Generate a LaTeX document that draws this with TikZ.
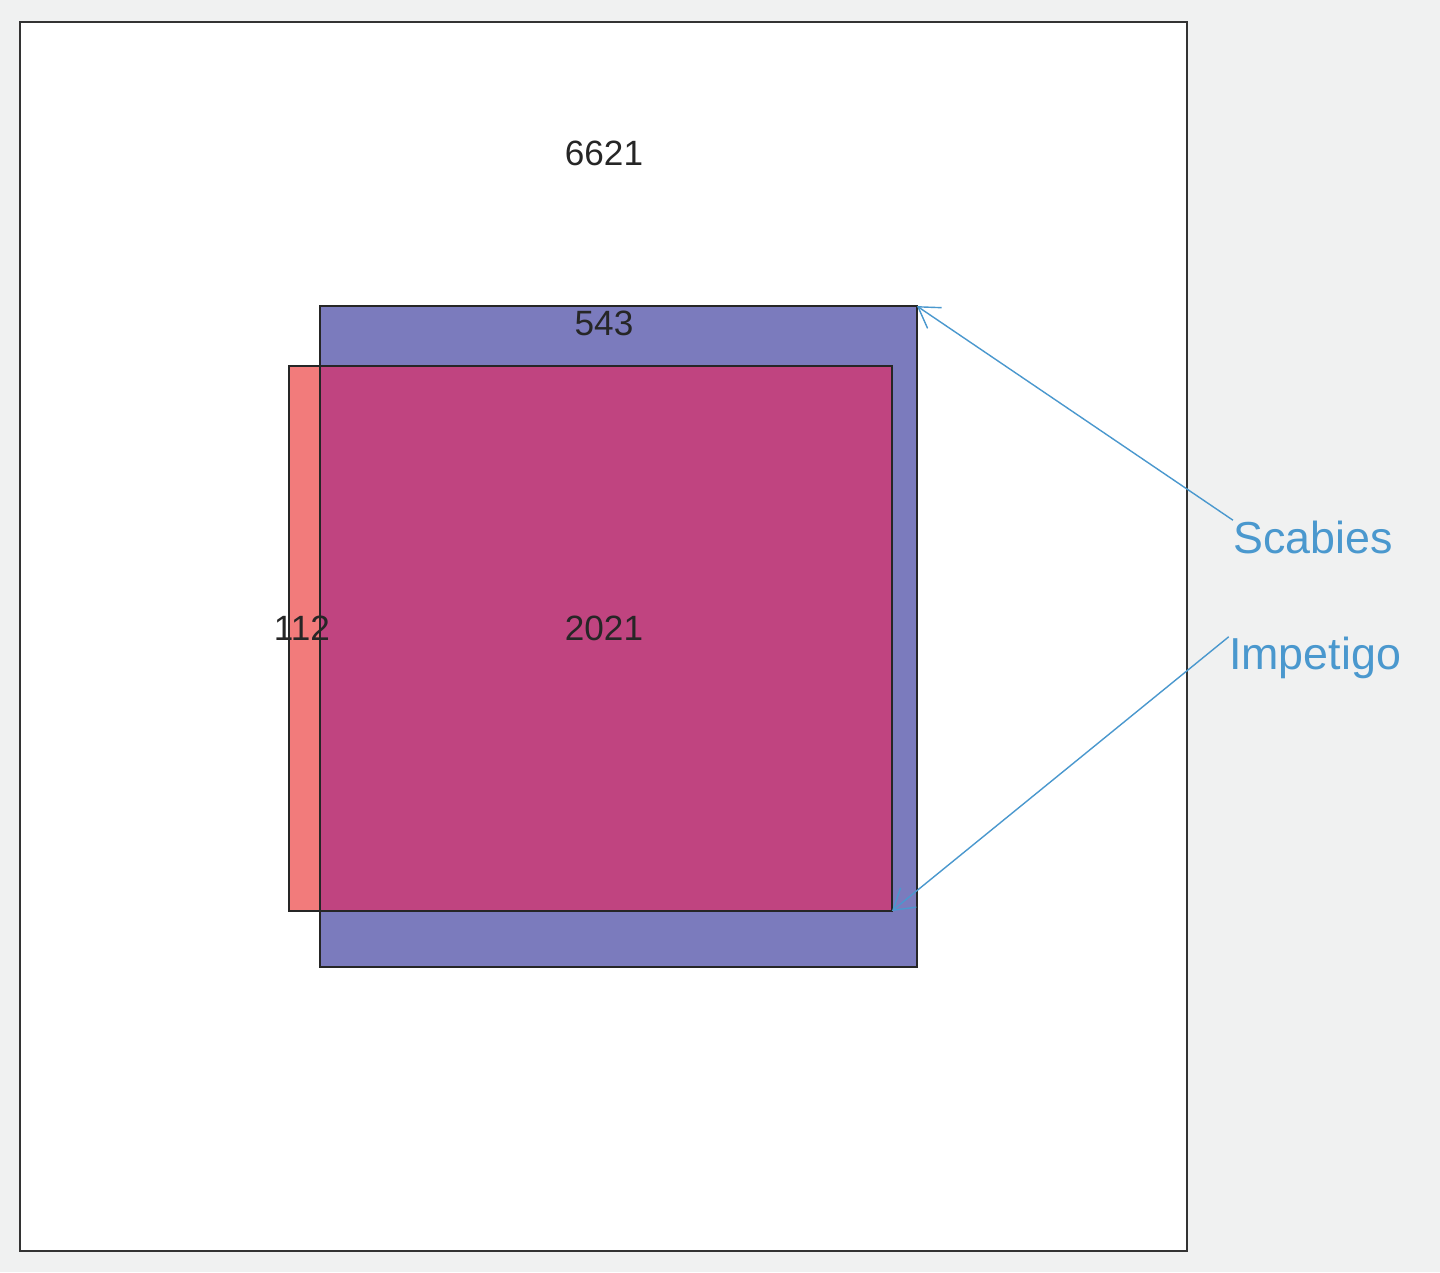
\documentclass[tikz,border=0pt]{standalone}
\usepackage{fontspec}
\setmainfont{Liberation Sans}
\usepackage{xcolor}
\usetikzlibrary{arrows.meta, positioning, backgrounds}

\definecolor{panelgray}{HTML}{F0F1F1}
\definecolor{setblue}{HTML}{7B7BBD}
\definecolor{setred}{HTML}{F27B7B}
\definecolor{setboth}{HTML}{C04480}
\definecolor{labelblue}{HTML}{4A98CE}

\begin{document}
\begin{tikzpicture}[
    x=0.02cm, y=-0.02cm,
    setbox/.style={rectangle, draw=black!85, line width=1.1pt, inner sep=0pt, outer sep=0pt},
    count/.style={font=\fontsize{20}{24}\selectfont, text=black!85},
    setlabel/.style={font=\fontsize{25.5}{30}\selectfont, text=labelblue, inner sep=0pt},
    pointer/.style={-{Straight Barb[length=4mm, width=5mm]}, draw=labelblue, line width=0.8pt}
]
    % Background and frame
    \fill[panelgray] (0,0) rectangle (1440,1272);
    \useasboundingbox (0,0) rectangle (1440,1272);
    \node[setbox, fill=white, draw=black!80, minimum width=23.34cm, minimum height=24.58cm] (frame) at (603.5,636.5) {};

    % Sets
    \node[setbox, fill=setblue, minimum width=11.94cm, minimum height=13.22cm] (scabies) at (618.5,636.5) {};
    \node[setbox, fill=setred, draw=none, minimum width=12.06cm, minimum height=10.9cm] (impetigo) at (590.5,638.5) {};
    \begin{scope}
        \clip (scabies.south west) rectangle (scabies.north east);
        \fill[setboth] (impetigo.south west) rectangle (impetigo.north east);
    \end{scope}
    \draw[black!85, line width=1.1pt] (scabies.south west) rectangle (scabies.north east);
    \draw[black!85, line width=1.1pt] (impetigo.south west) rectangle (impetigo.north east);

    % Counts
    \node[count] (outside) at (604,153) {6621};
    \node[count] (onlyscab) at (604,323) {543};
    \node[count] (onlyimp) at (302,628) {112};
    \node[count] (both) at (604,628) {2021};

    % Labels
    \node[setlabel] (scablabel) at (1313,537) {Scabies};
    \node[setlabel] (implabel) at (1315,658) {Impetigo};

    % Pointers
    \draw[pointer] (scablabel.north west) -- (scabies.north east);
    \draw[pointer] (implabel.north west) -- (impetigo.south east);
\end{tikzpicture}
\end{document}
